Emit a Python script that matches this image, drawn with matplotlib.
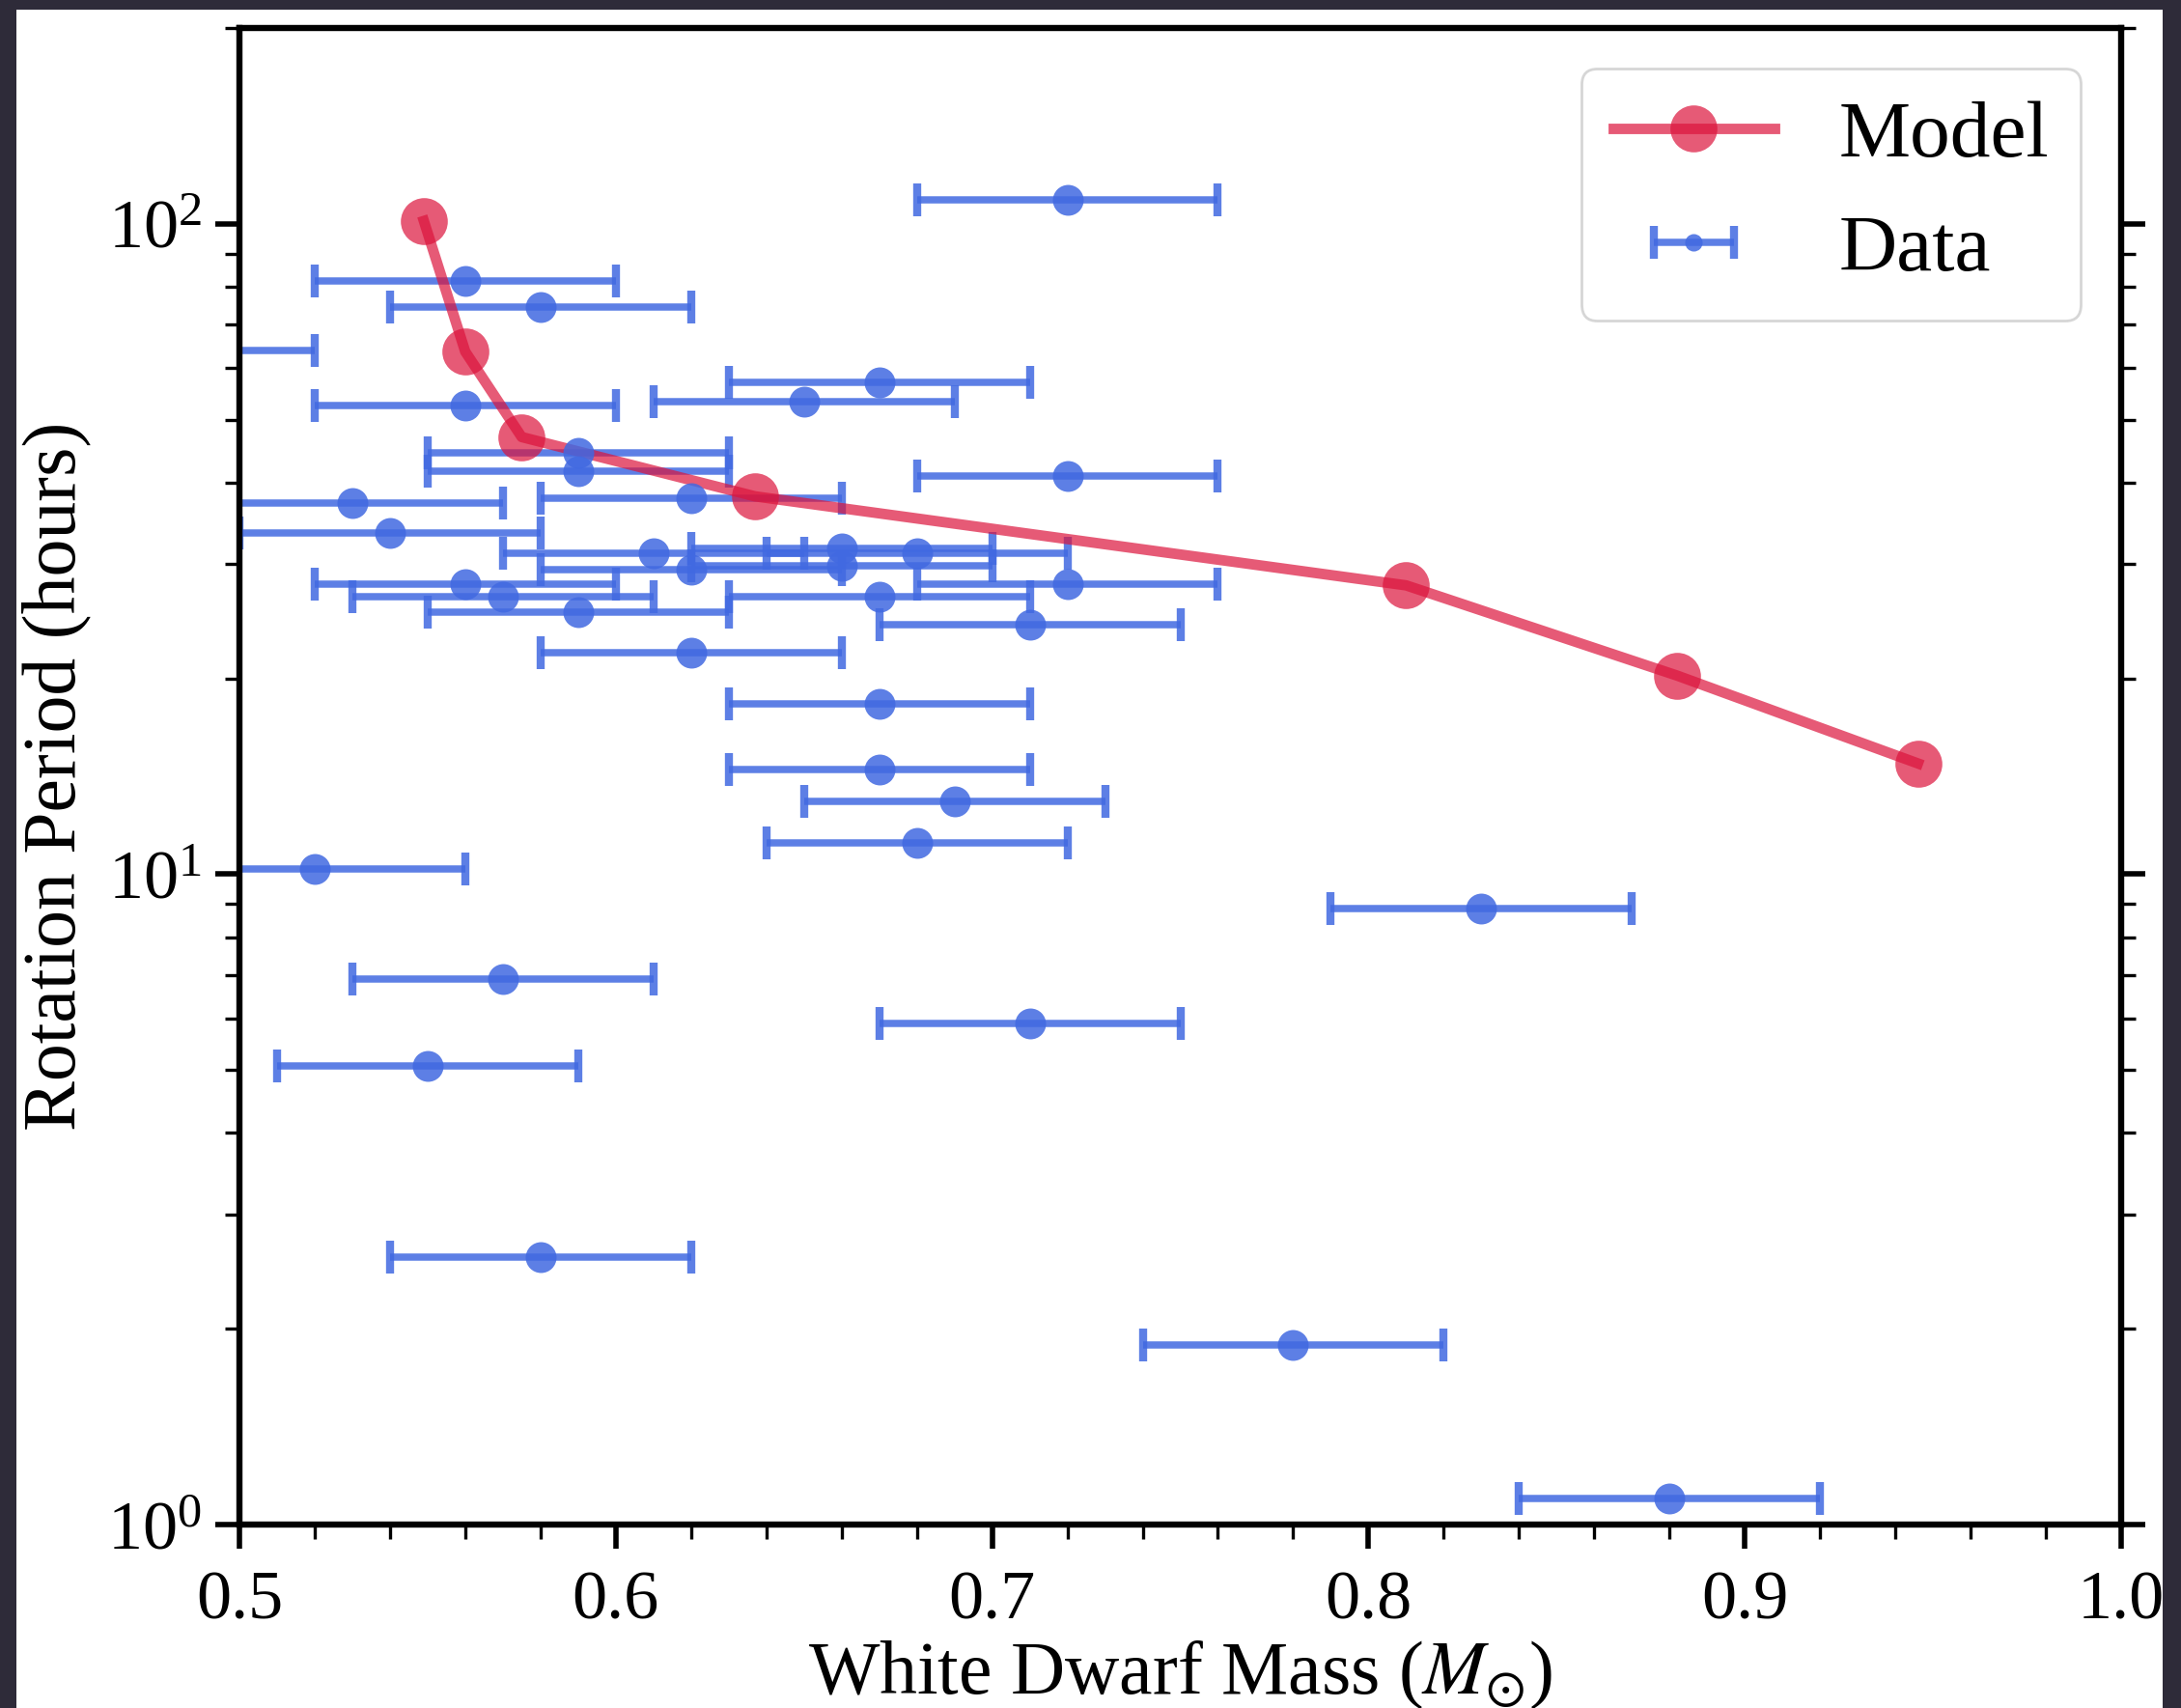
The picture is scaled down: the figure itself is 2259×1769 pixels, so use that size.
import numpy as np
import matplotlib
matplotlib.use("Agg")
import matplotlib.pyplot as plt
from matplotlib.patches import Rectangle
from matplotlib.ticker import MultipleLocator

plt.rcParams['font.family'] = ['Liberation Serif', 'DejaVu Serif']
plt.rcParams['mathtext.fontset'] = 'stix'

# model track (mass in Msun, period in hours)
model_mass = [0.549, 0.560, 0.575, 0.637, 0.810, 0.882, 0.946]
model_period = [101, 63.6, 47.0, 38.1, 27.8, 20.2, 14.8]

# observed white dwarfs
data_mass = [0.72, 0.56, 0.58, 0.48, 0.67, 0.65, 0.56, 0.59, 0.59, 0.72,
             0.62, 0.53, 0.54, 0.61, 0.66, 0.66, 0.68, 0.62, 0.56, 0.72,
             0.57, 0.67, 0.59, 0.71, 0.62, 0.67, 0.67, 0.69, 0.68, 0.52,
             0.83, 0.57, 0.71, 0.55, 0.58, 0.78, 0.88]
data_period = [109, 81.6, 74.6, 63.9, 57.1, 53.2, 52.6, 44.4, 41.7, 40.9,
               37.8, 37.2, 33.5, 31.2, 31.7, 29.8, 31.2, 29.4, 27.9, 27.9,
               26.7, 26.7, 25.3, 24.2, 21.9, 18.3, 14.5, 12.95, 11.17, 10.17,
               8.86, 6.89, 5.89, 5.08, 2.58, 1.89, 1.096]
data_mass_err = [0.04] * len(data_mass)

W, H = 2259, 1769
fig = plt.figure(figsize=(W / 200, H / 200), dpi=200)
fig.patch.set_facecolor('#2e2b39')
fig.add_artist(Rectangle((17 / W, 0), (2240 - 17) / W, 1 - 10 / H,
                         transform=fig.transFigure, facecolor='white',
                         edgecolor='none', zorder=-10))

ax = fig.add_axes([248 / W, 1 - 1579 / H, (2197 - 248) / W, (1579 - 29) / H])

err_style = dict(fmt='o', color='royalblue', alpha=0.85, elinewidth=2.7,
                 capsize=6, capthick=3)
data_err = ax.errorbar(data_mass, data_period, xerr=data_mass_err, ms=11.5,
                       **err_style)
data_err[0].set_markeredgewidth(0)
# smaller marker for the legend entry
data_handle = ax.errorbar([np.nan], [np.nan], xerr=[0.04], ms=6.5,
                          label='Data', **err_style)
data_handle[0].set_markeredgewidth(0)

model_line, = ax.plot(model_mass, model_period, '-o', color='crimson',
                      alpha=0.7, lw=3.9, ms=17.5, mew=0, label='Model')

ax.set_yscale('log')
ax.set_xlim(0.5, 1.0)
ax.set_ylim(1, 200)
ax.xaxis.set_major_locator(MultipleLocator(0.1))
ax.xaxis.set_minor_locator(MultipleLocator(0.02))

ax.tick_params(which='both', direction='out', right=True, top=False)
ax.tick_params(which='major', length=9, width=2.0, labelsize=26)
ax.tick_params(which='minor', length=5.5, width=1.2)
ax.tick_params(axis='x', pad=8)
ax.tick_params(axis='y', pad=5)
for s in ax.spines.values():
    s.set_linewidth(2.3)

ax.set_xlabel(r'White Dwarf Mass ($M_{\odot}$)', fontsize=28, labelpad=2)
ax.set_ylabel('Rotation Period (hours)', fontsize=28, labelpad=6)

ax.legend(handles=[model_line, data_handle], labels=['Model', 'Data'],
          loc='upper right', fontsize=30, handlelength=2.0,
          borderaxespad=0.5)

fig.savefig('out.png', dpi=200, facecolor=fig.get_facecolor())
